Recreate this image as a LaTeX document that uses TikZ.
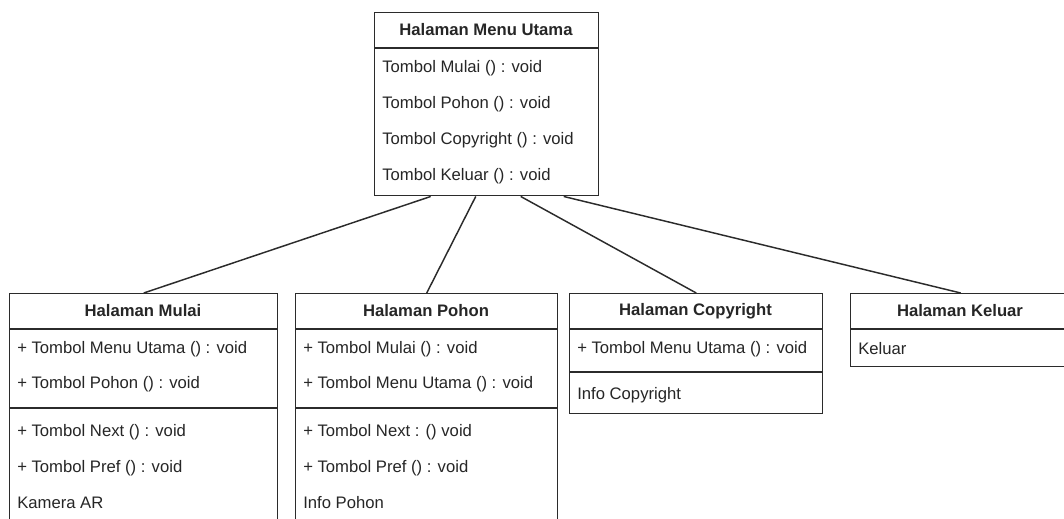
\documentclass[tikz,border=0pt]{standalone}
\usepackage{fontspec}
\setmainfont{Liberation Sans}
\definecolor{linec}{HTML}{2B2B2B}
\definecolor{txt}{HTML}{262626}
\begin{document}
\begin{tikzpicture}[x=0.75pt,y=-0.75pt,
  box/.style={draw=linec, line width=1.1pt, fill=white, inner sep=0pt, anchor=north west},
  sep/.style={draw=linec, line width=1.1pt},
  head/.style={font=\bfseries\fontsize{12.5}{15}\selectfont, text=txt, inner sep=0pt},
  row/.style={font=\fontsize{12.5}{15}\selectfont, text=txt, anchor=west, inner sep=0pt},
  link/.style={draw=linec, line width=1.1pt}]
\useasboundingbox (0,0) rectangle (1064,518);
\clip (0,0) rectangle (1064,518);

% class boxes
\node[box, minimum width=168pt, minimum height=137.25pt] (menu) at (374,12) {};
\node[box, minimum width=201pt, minimum height=180pt] (mulai) at (9,293) {};
\node[box, minimum width=196.5pt, minimum height=180pt] (pohon) at (295,293) {};
\node[box, minimum width=189.75pt, minimum height=90pt] (copy) at (569,293) {};
\node[box, minimum width=165pt, minimum height=54.75pt] (keluar) at (850,293) {};

% compartment separators
\foreach \b in {menu,mulai,pohon,copy,keluar}
  \draw[sep] ([yshift=-27pt]\b.north west) -- ([yshift=-27pt]\b.north east);
\draw[sep] ([yshift=-86.25pt]mulai.north west) -- ([yshift=-86.25pt]mulai.north east);
\draw[sep] ([yshift=-86.25pt]pohon.north west) -- ([yshift=-86.25pt]pohon.north east);
\draw[sep] ([yshift=-59.25pt]copy.north west) -- ([yshift=-59.25pt]copy.north east);

% Halaman Menu Utama
\node[head] (menuH) at (486,30) {Halaman Menu Utama};
\node[row] (m1) at (382,68) {Tombol Mulai () : void};
\node[row] (m2) at (382,104) {Tombol Pohon () : void};
\node[row] (m3) at (382,140) {Tombol Copyright () : void};
\node[row] (m4) at (382,176) {Tombol Keluar () : void};

% Halaman Mulai
\node[head] (mulaiH) at (143,311) {Halaman Mulai};
\node[row] (a1) at (17,349) {+ Tombol Menu Utama () : void};
\node[row] (a2) at (17,384) {+ Tombol Pohon () : void};
\node[row] (a3) at (17,432) {+ Tombol Next () : void};
\node[row] (a4) at (17,468) {+ Tombol Pref () : void};
\node[row] (a5) at (17,503) {Kamera AR};

% Halaman Pohon
\node[head] (pohonH) at (426,311) {Halaman Pohon};
\node[row] (p1) at (303,349) {+ Tombol Mulai () : void};
\node[row] (p2) at (303,384) {+ Tombol Menu Utama () : void};
\node[row] (p3) at (303,432) {+ Tombol Next : () void};
\node[row] (p4) at (303,468) {+ Tombol Pref () : void};
\node[row] (p5) at (303,503) {Info Pohon};

% Halaman Copyright
\node[head] (copyH) at (695.5,311) {Halaman Copyright};
\node[row] (c1) at (577,349) {+ Tombol Menu Utama () : void};
\node[row] (c2) at (577,395) {Info Copyright};

% Halaman Keluar
\node[head] (keluarH) at (960,311) {Halaman Keluar};
\node[row] (k1) at (858,349) {Keluar};

% associations
\draw[link] ([xshift=-42pt]menu.south) -- (mulai.north);
\draw[link] ([xshift=-8.25pt]menu.south) -- (pohon.north);
\draw[link] ([xshift=25.5pt]menu.south) -- (copy.north);
\draw[link] ([xshift=57.75pt]menu.south) -- (keluar.north);
\end{tikzpicture}
\end{document}
